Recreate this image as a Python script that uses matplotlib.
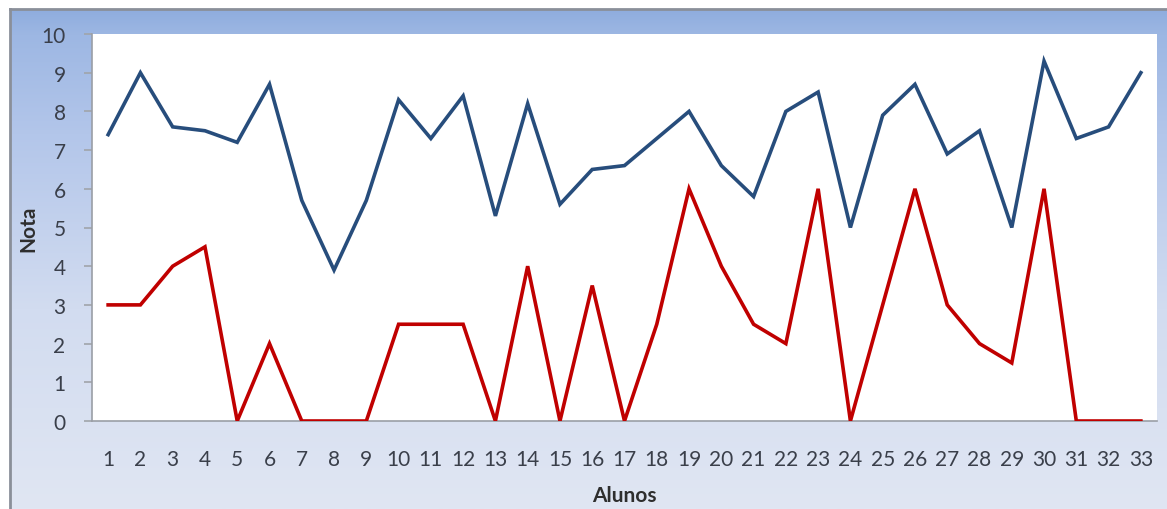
import numpy as np
import matplotlib
matplotlib.use("Agg")
import matplotlib.pyplot as plt
from matplotlib.colors import LinearSegmentedColormap

# Notas por aluno
alunos = list(range(1, 34))
nota_serie_a = [7.4, 9.0, 7.6, 7.5, 7.2, 8.7, 5.7, 3.9, 5.7, 8.3, 7.3, 8.4, 5.3,
                8.2, 5.6, 6.5, 6.6, 7.3, 8.0, 6.6, 5.8, 8.0, 8.5, 5.0, 7.9, 8.7,
                6.9, 7.5, 5.0, 9.3, 7.3, 7.6, 9.0]
nota_serie_b = [3, 3, 4, 4.5, 0, 2, 0, 0, 0, 2.5, 2.5, 2.5, 0, 4, 0, 3.5, 0,
                2.5, 6, 4, 2.5, 2, 6, 0, 3, 6, 3, 2, 1.5, 6, 0, 0, 0]
y_ticks = list(range(0, 11))

W, H = 1167, 510
fig = plt.figure(figsize=(W / 100, H / 100), dpi=100)
fig.patch.set_facecolor("white")

# chart frame with a soft vertical gradient
bg = fig.add_axes([10 / W, 0, 1 - 10 / W, 1 - 10 / H], zorder=0)
grad_cmap = LinearSegmentedColormap.from_list(
    "frame", [(0.0, "#8fadde"), (0.05, "#9db7e3"), (0.25, "#b3c6ea"),
              (0.6, "#d2dcf0"), (1.0, "#e0e6f3")])
bg.imshow(np.linspace(0, 1, 256).reshape(-1, 1), aspect="auto",
          cmap=grad_cmap, extent=[0, 1, 0, 1], origin="upper")
bg.set_xlim(0, 1)
bg.set_ylim(0, 1)
bg.set_xticks([])
bg.set_yticks([])
for side in ("right", "bottom"):
    bg.spines[side].set_visible(False)
for side in ("left", "top"):
    bg.spines[side].set_color("#8a8f99")
    bg.spines[side].set_linewidth(2.0)

ax = fig.add_axes([92 / W, (H - 422) / H, (1157 - 92) / W, (422 - 35) / H], zorder=1)
ax.set_facecolor("white")

ax.plot(alunos, nota_serie_a, color="#274d7c", lw=2.6, solid_joinstyle="miter",
        zorder=3)
ax.plot(alunos, nota_serie_b, color="#c00000", lw=2.6, solid_joinstyle="miter",
        zorder=3)

ax.set_xlim(0.5, 33.5)
ax.set_ylim(0, 10)
ax.set_xticks(alunos)
ax.set_xticklabels([str(a) for a in alunos])
ax.set_yticks(y_ticks)

font = "Lato"
tick_color = "#3a3f4a"
for lbl in ax.get_xticklabels() + ax.get_yticklabels():
    lbl.set_fontfamily(font)
    lbl.set_fontsize(15)
    lbl.set_color(tick_color)

ax.tick_params(axis="x", length=0, pad=20)
ax.tick_params(axis="y", length=6, width=1.2, color="#a0a4aa", direction="out",
               pad=13)

for side in ("top", "right"):
    ax.spines[side].set_visible(False)
for side in ("left", "bottom"):
    ax.spines[side].set_color("#9a9ea6")
    ax.spines[side].set_linewidth(1.2)

ax.set_xlabel("Alunos", fontfamily=font, fontsize=15, fontweight="bold",
              color="#2e2e2e", labelpad=12)
ax.set_ylabel("Nota", fontfamily=font, fontsize=15, fontweight="bold",
              color="#2e2e2e", labelpad=2)

fig.savefig("out.png", dpi=100)
